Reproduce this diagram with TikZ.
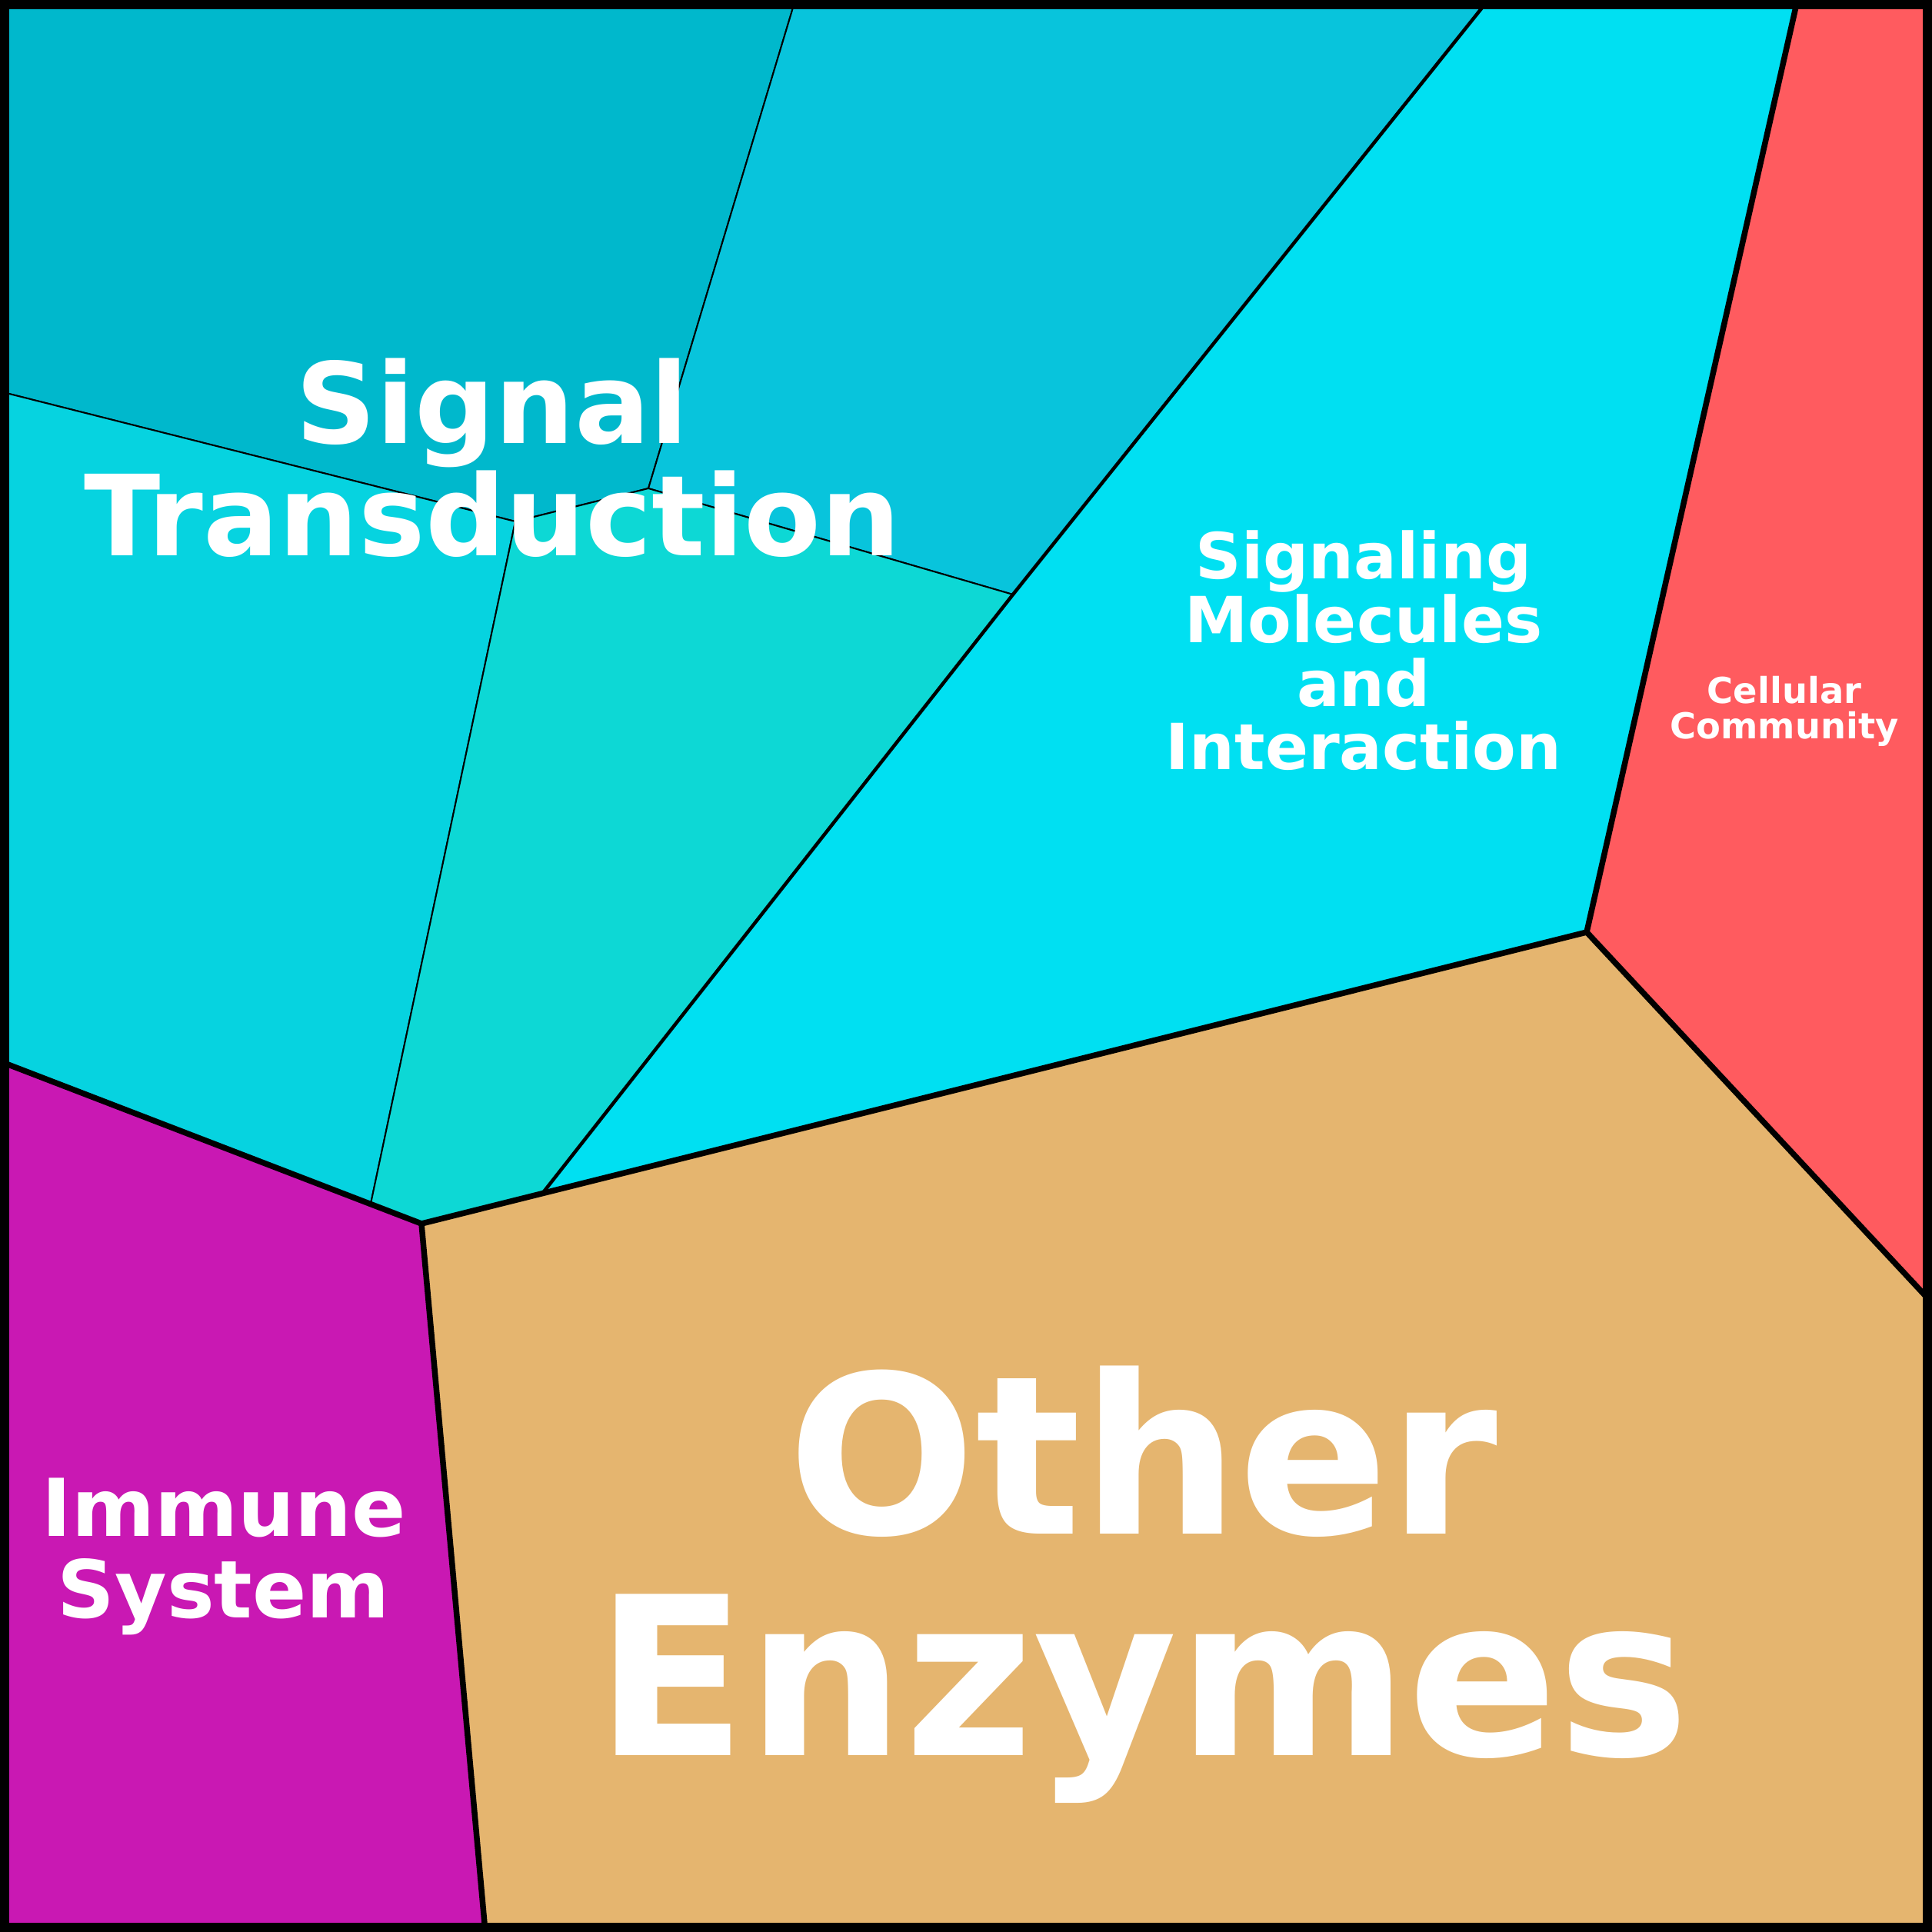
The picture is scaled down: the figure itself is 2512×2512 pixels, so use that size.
\documentclass[tikz,border=0pt]{standalone}
\usepackage{fontspec}
\setmainfont{DejaVu Sans}
\usepackage{tikz}
\usetikzlibrary{positioning}

\definecolor{sigdark}{HTML}{00B8CC}
\definecolor{sigmid}{HTML}{08C4DC}
\definecolor{sigleft}{HTML}{06D3E0}
\definecolor{sigteal}{HTML}{0DD8D5}
\definecolor{molcyan}{HTML}{00E0F2}
\definecolor{cellred}{HTML}{FF5B5F}
\definecolor{enztan}{HTML}{E5B56F}
\definecolor{immmag}{HTML}{C918B3}

\begin{document}
\begin{tikzpicture}[x=0.01cm,y=-0.01cm]
  \tikzstyle{Cell}=[draw=black,line width=0.02cm,line join=round]
  \tikzstyle{MidEdge}=[draw=black,line width=0.045cm,line join=round]
  \tikzstyle{ThickEdge}=[draw=black,line width=0.075cm,line join=round]
  \tikzstyle{Label}=[text=white,align=center,inner sep=0pt,font=\bfseries]
  \useasboundingbox (0,0) rectangle (2512,2512);

  \coordinate (nw) at (0,0);
  \coordinate (ne) at (2512,0);
  \coordinate (se) at (2512,2512);
  \coordinate (sw) at (0,2512);

  \coordinate (a) at (1034,0);
  \coordinate (b) at (843,635);
  \coordinate (c) at (670,678);
  \coordinate (d) at (0,509);
  \coordinate (e) at (1935,0);
  \coordinate (f) at (1317,773);
  \coordinate (g) at (482,1565);
  \coordinate (h) at (548,1591);
  \coordinate (i) at (705,1552);
  \coordinate (j) at (2337,0);
  \coordinate (k) at (2063,1212);
  \coordinate (l) at (2512,1694);
  \coordinate (m) at (631,2512);
  \coordinate (n) at (0,1380);

  \path[Cell,fill=sigdark] (nw) -- (a) -- (b) -- (c) -- (d) -- cycle;
  \path[Cell,fill=sigmid] (a) -- (e) -- (f) -- (b) -- cycle;
  \path[Cell,fill=sigleft] (d) -- (c) -- (g) -- (n) -- cycle;
  \path[Cell,fill=sigteal] (c) -- (b) -- (f) -- (i) -- (h) -- (g) -- cycle;
  \path[Cell,fill=molcyan] (e) -- (j) -- (k) -- (i) -- (f) -- cycle;
  \path[Cell,fill=cellred] (j) -- (ne) -- (l) -- (k) -- cycle;
  \path[Cell,fill=enztan] (h) -- (k) -- (l) -- (se) -- (m) -- cycle;
  \path[Cell,fill=immmag] (n) -- (h) -- (m) -- (sw) -- cycle;

  \draw[MidEdge] (e) -- (f) -- (i);
  \draw[ThickEdge] (n) -- (h) -- (k) -- (l);
  \draw[ThickEdge] (h) -- (m);
  \draw[ThickEdge] (j) -- (k);
  \draw[black,line width=0.24cm] (nw) rectangle (se);

  \node[Label,font=\bfseries\fontsize{41.4}{41.4}\selectfont] (sig) at (640,595) {Signal\\Transduction};
  \node[Label,font=\bfseries\fontsize{23.5}{23.5}\selectfont] (mol) at (1773,846) {Signaling\\Molecules\\and\\Interaction};
  \node[Label,font=\bfseries\fontsize{13.2}{13.2}\selectfont] (cel) at (2320,925) {Cellular\\Community};
  \node[Label,font=\bfseries\fontsize{29.5}{30}\selectfont] (imm) at (291,2024) {Immune\\System};
  \node[Label,font=\bfseries\fontsize{81.8}{82}\selectfont] (enz) at (1486,2060) {Other\\Enzymes};
\end{tikzpicture}
\end{document}
